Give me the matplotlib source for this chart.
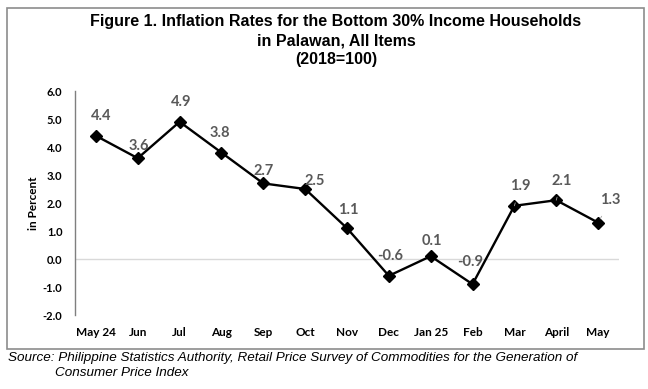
import matplotlib
matplotlib.use("Agg")
import matplotlib.pyplot as plt
from matplotlib.patches import Rectangle

months = ["May 24", "Jun", "Jul", "Aug", "Sep", "Oct", "Nov", "Dec", "Jan 25", "Feb", "Mar", "April", "May"]
inflation = [4.4, 3.6, 4.9, 3.8, 2.7, 2.5, 1.1, -0.6, 0.1, -0.9, 1.9, 2.1, 1.3]
yticks = [-2.0, -1.0, 0.0, 1.0, 2.0, 3.0, 4.0, 5.0, 6.0]

# label offsets in points (dx, dy)
offsets = [(4, 14), (1, 9), (1, 14), (-1, 14), (0, 9), (7, 6), (1, 13), (1, 14), (1, 11), (-2, 16), (4, 14), (4, 14), (9, 16)]
leader = [False] * 10 + [True, True, True]

W, H = 648, 389
fig = plt.figure(figsize=(W / 100, H / 100), dpi=100)

def px(x0, y0, x1, y1):
    return [x0 / W, 1 - y1 / H, (x1 - x0) / W, (y1 - y0) / H]

# border
fig.patches.append(Rectangle((7 / W, 1 - 349 / H), (644 - 7) / W, (349 - 8) / H,
                             transform=fig.transFigure, fill=False, edgecolor="#8c8c8c", lw=1.2))

ax = fig.add_axes(px(75, 91, 619, 315))
x = list(range(len(months)))
ax.plot(x, inflation, color="black", lw=1.7, marker="D", markersize=6.5, zorder=3)
ax.set_xlim(-0.5, len(months) - 0.5)
ax.set_ylim(-2.0, 6.0)
ax.set_yticks(yticks)
ax.set_yticklabels([f"{v:.1f}" for v in yticks], fontfamily="Lato", fontweight="bold", fontsize=8)
ax.set_xticks(x)
ax.set_xticklabels(months, fontfamily="Lato", fontweight="bold", fontsize=8.5)
ax.tick_params(axis="both", length=0)
ax.tick_params(axis="y", pad=9)
ax.tick_params(axis="x", pad=9)
for s in ["top", "right", "bottom"]:
    ax.spines[s].set_visible(False)
ax.spines["left"].set_color("#7f7f7f")
ax.spines["left"].set_linewidth(1.0)
ax.axhline(0, color="#d9d9d9", lw=1.0, zorder=1)
ax.set_ylabel("in Percent", fontfamily="Lato", fontweight="bold", fontsize=8.5, labelpad=3)

for xi, v, (dx, dy), ld in zip(x, inflation, offsets, leader):
    ax.annotate(f"{v:.1f}", (xi, v), xytext=(dx, dy), textcoords="offset points",
                ha="center", va="center", fontfamily="Lato", fontweight="bold",
                fontsize=10.5, color="#595959",
                arrowprops=dict(arrowstyle="-", color="#a6a6a6", lw=0.6, shrinkA=5, shrinkB=3) if ld else None)

title = "Figure 1. Inflation Rates for the Bottom 30% Income Households\nin Palawan, All Items\n(2018=100)"
fig.text(336 / W, 1 - 14 / H, title, ha="center", va="top", fontsize=11.5, fontweight="bold",
         family=["Liberation Sans Narrow", "Liberation Sans", "DejaVu Sans"], linespacing=1.35)

fig.text(8 / W, 1 - 358 / H, "Source: Philippine Statistics Authority, Retail Price Survey of Commodities for the Generation of",
         ha="left", va="center", fontsize=9.7, style="italic", family=["Liberation Sans", "DejaVu Sans"])
fig.text(55 / W, 1 - 373 / H, "Consumer Price Index",
         ha="left", va="center", fontsize=9.7, style="italic", family=["Liberation Sans", "DejaVu Sans"])

fig.savefig("out.png", dpi=100)
